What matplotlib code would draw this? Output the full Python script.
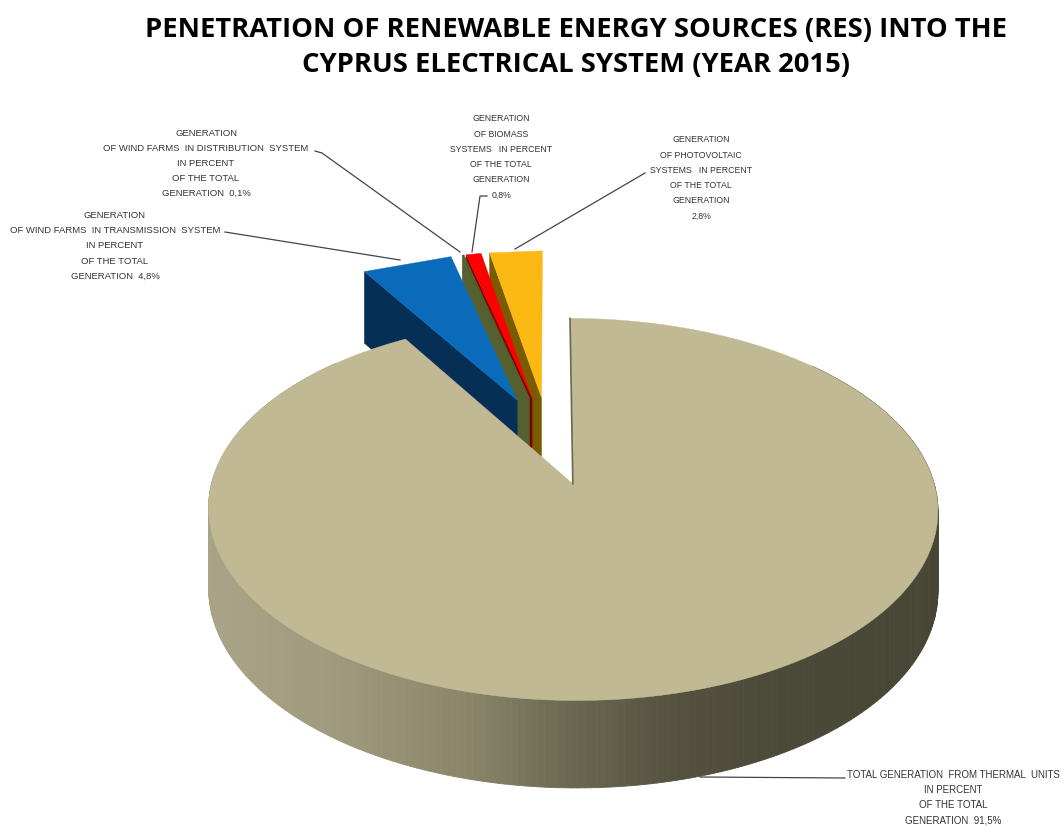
import numpy as np
import matplotlib
matplotlib.use("Agg")
import matplotlib.pyplot as plt
from matplotlib.colors import to_rgb

# ---- data -------------------------------------------------------------
sources = ["Thermal units", "Wind farms (transmission)", "Wind farms (distribution)",
           "Biomass systems", "Photovoltaic systems"]
shares = [91.5, 4.8, 0.1, 0.8, 2.8]
top_colors = ["#C0B994", "#0A6BBB", "#4F6228", "#FF0000", "#FDB913"]
face_colors = ["#6B6850", "#062F56", "#56602F", "#7A0000", "#7A5C00"]
title_lines = "PENETRATION OF RENEWABLE ENERGY SOURCES (RES) INTO THE\nCYPRUS ELECTRICAL SYSTEM (YEAR 2015)"
label_texts = [
    "TOTAL GENERATION  FROM THERMAL  UNITS\nIN PERCENT\nOF THE TOTAL\nGENERATION  91,5%",
    "GENERATION\nOF WIND FARMS  IN TRANSMISSION  SYSTEM\nIN PERCENT\nOF THE TOTAL\nGENERATION  4,8%",
    "GENERATION\nOF WIND FARMS  IN DISTRIBUTION  SYSTEM\nIN PERCENT\nOF THE TOTAL\nGENERATION  0,1%",
    "GENERATION\nOF BIOMASS\nSYSTEMS   IN PERCENT\nOF THE TOTAL\nGENERATION\n0,8%",
    "GENERATION\nOF PHOTOVOLTAIC\nSYSTEMS   IN PERCENT\nOF THE TOTAL\nGENERATION\n2,8%",
]

# ---- projection of the exploded 3-D pie --------------------------------
CX, CY, RX, RY, K, EXPLODE = 549.0, 441.0, 350.0, 176.0, 0.13, 0.25
DEPTH, DEPTH_P = 78.0, 0.65


def project(u, v, lower=False):
    w = 1 + K * np.asarray(v, float)
    x = CX + RX * np.asarray(u, float) / w
    y = CY - RY * np.asarray(v, float) / w
    if lower:
        y = y + DEPTH / w ** DEPTH_P
    return x, y


def wedge(a0, a1, n=240):
    """Outline (clockwise degrees from 12 o'clock) of an exploded wedge."""
    mid = np.radians((a0 + a1) / 2)
    ou, ov = EXPLODE * np.sin(mid), EXPLODE * np.cos(mid)
    ang = np.radians(np.linspace(a0, a1, n))
    return ou, ov, ou + np.sin(ang), ov + np.cos(ang)


frac = np.array(shares) / sum(shares)
edges = np.concatenate([[0], np.cumsum(frac) * 360])

fig = plt.figure(figsize=(10.63, 8.28), dpi=100, facecolor="white")
ax = fig.add_axes([0, 0, 1, 1])
ax.set_xlim(0, 1063)
ax.set_ylim(828, 0)
ax.axis("off")

# small slices, far to near (their outer edges read as straight chords)
for i in range(len(shares) - 1, 0, -1):
    ou, ov, u, v = wedge(edges[i], edges[i + 1], 2)
    ax_, ay_ = project(ou, ov)
    bx_, by_ = project(ou, ov, True)
    x0, y0 = project(u[0], v[0])
    x1, y1 = project(u[0], v[0], True)
    ax.fill([ax_, x0, x1, bx_], [ay_, y0, y1, by_], color=face_colors[i], lw=0.3, zorder=2)
    x, y = project(u, v)
    ax.fill(np.r_[ax_, x], np.r_[ay_, y], color=top_colors[i], lw=0.3, zorder=2)

# thermal slice: shaded rim then top
ou, ov, u, v = wedge(edges[0], edges[1], 360)
xt, yt = project(u, v)
xb, yb = project(u, v, True)
stops_x = [205, 330, 470, 570, 670, 760, 940]
stops_c = ["#A9A488", "#A09B7E", "#8A8569", "#6B6851", "#555240", "#4C4A38", "#474534"]
rgb = np.array([to_rgb(c) for c in stops_c])
for j in range(len(u) - 1):
    if yb[j] < CY:
        continue
    xm = (xt[j] + xt[j + 1]) / 2
    col = [np.interp(xm, stops_x, rgb[:, c]) for c in range(3)]
    ax.fill([xt[j], xt[j + 1], xb[j + 1], xb[j]], [yt[j], yt[j + 1], yb[j + 1], yb[j]],
            color=col, lw=0.6, zorder=3)
ax_, ay_ = project(ou, ov)
ax.fill(np.r_[ax_, xt], np.r_[ay_, yt], color=top_colors[0], lw=0.3, zorder=4)
ax.plot([ax_, xt[0]], [ay_, yt[0]], color=face_colors[0], lw=1.2, zorder=5)

# leader lines and labels
line_kw = dict(color="#444444", lw=0.9, zorder=6)
ax.plot([845, 700], [779, 778], **line_kw)
ax.plot([225, 400], [233, 261], **line_kw)
ax.plot([315, 322, 460], [152, 154, 253], **line_kw)
ax.plot([487, 480, 472], [197, 197, 253], **line_kw)
ax.plot([645, 515], [174, 250], **line_kw)

label_pos = [(953, 797.5), (115, 246), (206, 163.5), (501, 157), (701, 178)]
label_size = [7.05, 6.8, 6.8, 6.3, 6.3]
label_lead = [1.64, 1.87, 1.87, 1.9, 1.9]
for txt, (lx, ly), fs, ls in zip(label_texts, label_pos, label_size, label_lead):
    ax.text(lx, ly, txt, ha="center", va="center", fontsize=fs, color="#333333",
            family="Liberation Sans", linespacing=ls, zorder=7)

ax.text(576, 47.5, title_lines, ha="center", va="center", fontsize=19.7, fontweight="bold",
        family="Open Sans", color="black", linespacing=1.42)

fig.savefig("out.png", dpi=100, facecolor="white")
